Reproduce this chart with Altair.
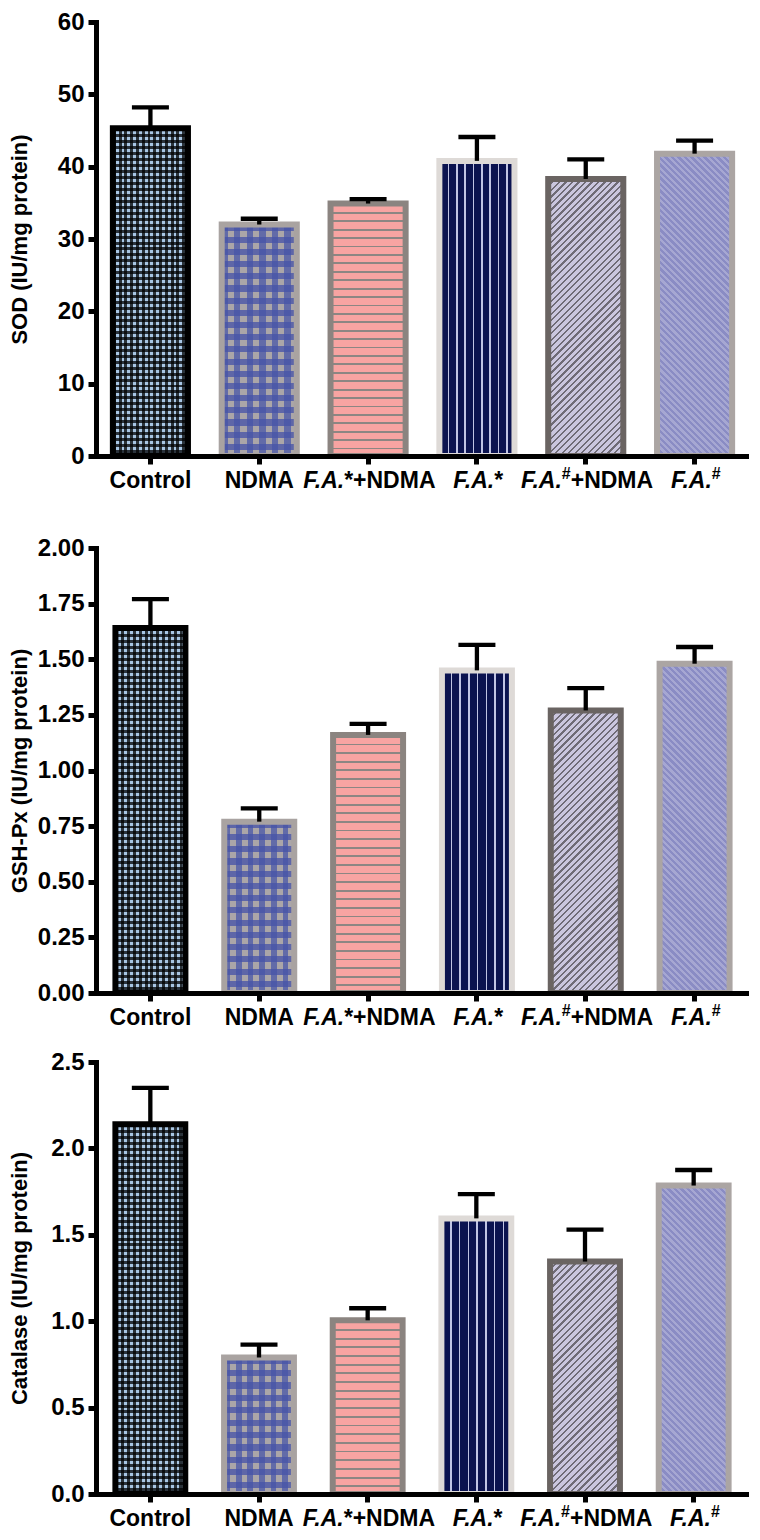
import math
import altair as alt
import pandas as pd

# ---------------- data ----------------
groups = ["Control", "NDMA", "F.A.*+NDMA", "F.A.*", "F.A.#+NDMA", "F.A.#"]
label_main = ["Control", "NDMA", "F.A.", "F.A.", "F.A.", "F.A."]
label_sup = ["", "", "*", "*", "#", "#"]
label_tail = ["", "", "+NDMA", "", "+NDMA", ""]

sod_mean = [45.3, 32.0, 34.9, 40.8, 38.3, 41.8]
sod_sem = [2.9, 0.8, 0.6, 3.3, 2.7, 1.8]
gsh_mean = [1.64, 0.77, 1.16, 1.45, 1.27, 1.48]
gsh_sem = [0.13, 0.06, 0.05, 0.115, 0.10, 0.075]
cat_mean = [2.14, 0.79, 1.005, 1.595, 1.345, 1.785]
cat_sem = [0.21, 0.075, 0.07, 0.14, 0.185, 0.09]

sod_ticks = [0, 10, 20, 30, 40, 50, 60]
gsh_ticks = [0, 0.25, 0.5, 0.75, 1.0, 1.25, 1.5, 1.75, 2.0]
cat_ticks = [0, 0.5, 1.0, 1.5, 2.0, 2.5]

# ---------------- style ----------------
FONT = "Liberation Sans"
border_colors = ["#000000", "#a9a3a1", "#8b8480", "#dedad7", "#6a6462", "#aba5a3"]
LBL = 23
SUP = 16
# Arial-bold advance widths (per 1000 em) for label layout
CW = {"C": 722, "o": 611, "n": 611, "t": 333, "r": 389, "l": 278, "N": 722, "D": 722,
      "M": 833, "A": 722, "F": 611, ".": 278, "*": 389, "#": 556, "+": 584}


def tw(s, size):
    return sum(CW.get(c, 556) for c in s) * size / 1000.0


def stops(c_line, c_bg, n, frac):
    out = []
    for k in range(n):
        a = k / n
        b = (k + frac) / n
        e = (k + 1) / n
        out += [(a, c_line), (b, c_line), (b, c_bg), (e, c_bg)]
    return [{"offset": round(o, 6), "color": c} for o, c in out]


def hstripes(c_line, c_bg, period, frac, h):
    n = max(1, int(round(h / period)))
    return {"gradient": "linear", "x1": 0, "y1": 0, "x2": 0, "y2": 1,
            "stops": stops(c_line, c_bg, n, frac)}


def vstripes(c_line, c_bg, period, frac, w):
    n = max(1, int(round(w / period)))
    return {"gradient": "linear", "x1": 0, "y1": 0, "x2": 1, "y2": 0,
            "stops": stops(c_line, c_bg, n, frac)}


def dstripes(c_line, c_bg, period, frac, w, h, up=True):
    r = h / w
    s = (1 + r) / (1 + r * r)
    n = max(1, int(round((w + h) / math.sqrt(2) / period)))
    if up:
        g = {"x1": 0, "y1": 0, "x2": round(s, 6), "y2": round(s * r, 6)}
    else:
        g = {"x1": 0, "y1": 1, "x2": round(s, 6), "y2": round(1 - s * r, 6)}
    g.update({"gradient": "linear", "stops": stops(c_line, c_bg, n, frac)})
    return g


def fills(i, w, h):
    if i == 0:   # fine checker: light blue / black
        return [hstripes("#2a323b", "#a8c6e4", 6, 0.5, h),
                vstripes("rgba(0,0,0,0.75)", "rgba(0,0,0,0)", 6, 0.5, w)]
    if i == 1:   # coarse checker: blue / grey
        return [hstripes("#5e66a8", "#aba6a8", 12, 0.5, h),
                vstripes("rgba(70,84,168,0.72)", "rgba(70,84,168,0)", 12, 0.5, w)]
    if i == 2:   # horizontal lines on pink
        return [hstripes("#8d8683", "#f8a4a2", 8.5, 0.22, h)]
    if i == 3:   # vertical light lines on navy
        return [vstripes("#c0c4e4", "#0b1350", 8.7, 0.18, w)]
    if i == 4:   # "/" lines on lavender
        return [dstripes("#6f6b76", "#cac6de", 4.6, 0.35, w, h, up=True)]
    return [dstripes("#8a8cc4", "#a6a7d2", 4.6, 0.5, w, h, up=False)]


def panel(mean, sem, ticks, fmt, title, W, H, pad_inner, title_pad, bottom_spacer=None):
    ymax = ticks[-1]
    df = pd.DataFrame({
        "group": groups, "mean": mean, "sem": sem,
        "upper": [m + s for m, s in zip(mean, sem)],
        "main": label_main, "sup": label_sup, "tail": label_tail,
    })
    xaxis = alt.Axis(labels=False, title=None, domainColor="black", domainWidth=5,
                     domainCap="square", tickColor="black", tickWidth=5, tickSize=8,
                     zindex=1, grid=False)
    yaxis = alt.Axis(values=ticks, format=fmt, title=title, domainColor="black",
                     domainWidth=5, domainCap="square", tickColor="black", tickWidth=5,
                     tickSize=8, labelFont=FONT, labelFontSize=24, labelFontWeight="bold",
                     labelColor="black", labelPadding=4, titleFont=FONT, titleFontSize=22,
                     titleFontWeight="bold", titleColor="black", titlePadding=title_pad,
                     grid=False, zindex=1)
    x = alt.X("group:N", sort=groups,
              scale=alt.Scale(domain=groups, paddingInner=pad_inner, paddingOuter=pad_inner / 2),
              axis=xaxis)
    yscale = alt.Scale(domain=[0, ymax], nice=False, zero=True)
    y = alt.Y("mean:Q", scale=yscale, axis=yaxis)
    yu = alt.Y("upper:Q", scale=yscale, axis=yaxis)

    base = alt.Chart(df).encode(x=x)
    bw = W / 6.0 * (1 - pad_inner)
    layers = []
    for i, g in enumerate(groups):
        h = mean[i] / ymax * H
        for grad in fills(i, bw, h):
            layers.append(base.mark_bar(fill=grad, strokeWidth=0)
                          .encode(y=y)
                          .transform_filter(alt.FieldEqualPredicate(field="group", equal=g)))
    layers.append(base.mark_bar(fillOpacity=0, strokeWidth=6, strokeJoin="miter")
                  .encode(y=y, stroke=alt.Stroke("group:N",
                                                 scale=alt.Scale(domain=groups, range=border_colors),
                                                 legend=None)))
    layers.append(base.mark_rule(color="black", strokeWidth=4.3).encode(y=y, y2="upper:Q"))
    layers.append(base.mark_tick(color="black", thickness=4.3, size=37, opacity=1).encode(y=yu))

    # category labels (mixed italic / superscript)
    ly = alt.value(H + 32)
    layers.append(base.mark_text(font=FONT, fontSize=LBL, fontWeight="bold", color="black",
                                 align="center", baseline="alphabetic")
                  .encode(y=ly, text="main:N")
                  .transform_filter(alt.FieldOneOfPredicate(field="group", oneOf=groups[:2])))
    for i in range(2, 6):
        g = groups[i]
        sup_size = LBL if label_sup[i] == "*" else SUP
        w_main = tw(label_main[i], LBL)
        w_sup = tw(label_sup[i], sup_size)
        w_tail = tw(label_tail[i], LBL)
        total = w_main + w_sup + w_tail
        split = -total / 2 + w_main
        flt = alt.FieldEqualPredicate(field="group", equal=g)
        layers.append(base.mark_text(font=FONT, fontSize=LBL, fontWeight="bold", fontStyle="italic",
                                     color="black", align="right", baseline="alphabetic", dx=split)
                      .encode(y=ly, text="main:N").transform_filter(flt))
        layers.append(base.mark_text(font=FONT, fontSize=sup_size, fontWeight="bold", color="black",
                                     align="left", baseline="alphabetic", dx=split,
                                     dy=(0 if label_sup[i] == "*" else -9))
                      .encode(y=ly, text="sup:N").transform_filter(flt))
        if label_tail[i]:
            layers.append(base.mark_text(font=FONT, fontSize=LBL, fontWeight="bold", color="black",
                                         align="left", baseline="alphabetic", dx=split + w_sup)
                          .encode(y=ly, text="tail:N").transform_filter(flt))
    if bottom_spacer is not None:
        layers.append(alt.Chart(df).mark_rule(strokeOpacity=0, strokeWidth=1)
                      .encode(y=alt.value(H + bottom_spacer)))
    return alt.layer(*layers).properties(width=W, height=H)


p1 = panel(sod_mean, sod_sem, sod_ticks, "d", "SOD (IU/mg protein)", 653, 434, 0.31, 26,
           bottom_spacer=60)
p2 = panel(gsh_mean, gsh_sem, gsh_ticks, ".2f", "GSH-Px (IU/mg protein)", 653, 445, 0.357, 6)
p3 = panel(cat_mean, cat_sem, cat_ticks, ".1f", "Catalase (IU/mg protein)", 652, 432, 0.357, 19)

chart = (alt.vconcat(p1, p2, p3, spacing=20)
         .properties(padding={"top": 2, "left": 0, "right": 0, "bottom": 0},
                     background="white")
         .configure_view(strokeWidth=0))

chart.save("out.html", embed_options={"renderer": "svg", "actions": False})
